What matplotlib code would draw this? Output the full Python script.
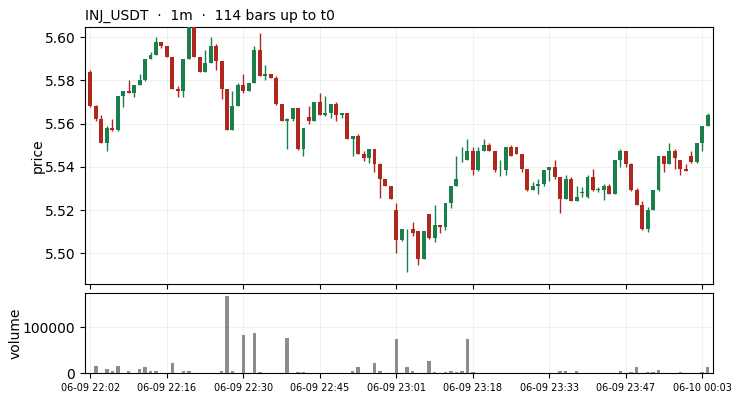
import matplotlib
matplotlib.use("Agg")
import matplotlib.pyplot as plt
import numpy as np

title = "INJ_USDT  ·  1m  ·  114 bars up to t0"

opens = [5.5838, 5.5682, 5.5622, 5.5511, 5.5580, 5.5571, 5.5728, 5.5752, 5.5742, 5.5779,
         5.5801, 5.5900, 5.5918, 5.5978, 5.5960, 5.5909, 5.5761, 5.5752, 5.5900, 5.6065,
         5.5909, 5.5839, 5.5881, 5.5960, 5.5890, 5.5761, 5.5571, 5.5682, 5.5779, 5.5752,
         5.5789, 5.5941, 5.5821, 5.5830, 5.5812, 5.5691, 5.5613, 5.5622, 5.5673, 5.5483,
         5.5631, 5.5613, 5.5701, 5.5640, 5.5650, 5.5691, 5.5640, 5.5650, 5.5529, 5.5543,
         5.5460, 5.5441, 5.5483, 5.5414, 5.5344, 5.5312, 5.5201, 5.5062, 5.5113, 5.5113,
         5.5103, 5.4975, 5.5182, 5.5071, 5.5131, 5.5122, 5.5233, 5.5312, 5.5450, 5.5432,
         5.5474, 5.5383, 5.5474, 5.5500, 5.5474, 5.5383, 5.5383, 5.5491, 5.5491, 5.5460,
         5.5390, 5.5293, 5.5312, 5.5321, 5.5383, 5.5400, 5.5353, 5.5252, 5.5344, 5.5242,
         5.5280, 5.5261, 5.5353, 5.5295, 5.5293, 5.5312, 5.5275, 5.5432, 5.5474, 5.5414,
         5.5293, 5.5224, 5.5113, 5.5201, 5.5293, 5.5451, 5.5414, 5.5474, 5.5432, 5.5390,
         5.5451, 5.5423, 5.5511, 5.5589]
highs = [5.5847, 5.5684, 5.5639, 5.5588, 5.5622, 5.5729, 5.5753, 5.5801, 5.5780, 5.5829,
         5.5901, 5.5931, 5.6000, 5.5979, 5.5961, 5.5910, 5.5776, 5.5901, 5.6080, 5.6080,
         5.5910, 5.5940, 5.6000, 5.5969, 5.5891, 5.5762, 5.5752, 5.5789, 5.5829, 5.5790,
         5.5960, 5.6019, 5.5870, 5.5831, 5.5821, 5.5692, 5.5628, 5.5674, 5.5674, 5.5581,
         5.5682, 5.5702, 5.5742, 5.5728, 5.5691, 5.5701, 5.5651, 5.5651, 5.5544, 5.5552,
         5.5474, 5.5484, 5.5484, 5.5420, 5.5345, 5.5313, 5.5231, 5.5114, 5.5114, 5.5145,
         5.5104, 5.5104, 5.5183, 5.5222, 5.5132, 5.5234, 5.5313, 5.5451, 5.5491, 5.5529,
         5.5491, 5.5491, 5.5529, 5.5509, 5.5475, 5.5432, 5.5492, 5.5500, 5.5492, 5.5461,
         5.5391, 5.5330, 5.5345, 5.5384, 5.5401, 5.5432, 5.5354, 5.5363, 5.5353, 5.5312,
         5.5308, 5.5363, 5.5392, 5.5308, 5.5321, 5.5321, 5.5433, 5.5483, 5.5475, 5.5420,
         5.5302, 5.5242, 5.5212, 5.5294, 5.5452, 5.5452, 5.5511, 5.5483, 5.5433, 5.5414,
         5.5474, 5.5512, 5.5590, 5.5650]
lows = [5.5679, 5.5613, 5.5508, 5.5471, 5.5568, 5.5568, 5.5679, 5.5740, 5.5725, 5.5778,
        5.5799, 5.5899, 5.5916, 5.5948, 5.5906, 5.5760, 5.5725, 5.5725, 5.5898, 5.5908,
        5.5838, 5.5838, 5.5880, 5.5846, 5.5716, 5.5570, 5.5570, 5.5681, 5.5741, 5.5749,
        5.5787, 5.5818, 5.5801, 5.5809, 5.5688, 5.5610, 5.5481, 5.5610, 5.5480, 5.5448,
        5.5600, 5.5610, 5.5638, 5.5637, 5.5628, 5.5610, 5.5628, 5.5527, 5.5448, 5.5459,
        5.5427, 5.5420, 5.5378, 5.5258, 5.5309, 5.5249, 5.5000, 5.5059, 5.4912, 5.5080,
        5.4944, 5.4972, 5.5068, 5.5051, 5.5093, 5.5108, 5.5210, 5.5310, 5.5421, 5.5430,
        5.5360, 5.5381, 5.5473, 5.5472, 5.5378, 5.5359, 5.5360, 5.5449, 5.5458, 5.5378,
        5.5288, 5.5291, 5.5275, 5.5309, 5.5335, 5.5344, 5.5188, 5.5250, 5.5241, 5.5240,
        5.5259, 5.5258, 5.5290, 5.5282, 5.5245, 5.5272, 5.5272, 5.5400, 5.5400, 5.5290,
        5.5222, 5.5110, 5.5100, 5.5199, 5.5290, 5.5378, 5.5412, 5.5390, 5.5360, 5.5380,
        5.5420, 5.5420, 5.5474, 5.5587]
closes = [5.5682, 5.5622, 5.5511, 5.5580, 5.5571, 5.5728, 5.5752, 5.5742, 5.5779, 5.5801,
          5.5900, 5.5918, 5.5978, 5.5960, 5.5909, 5.5761, 5.5752, 5.5900, 5.6065, 5.5909,
          5.5839, 5.5881, 5.5960, 5.5890, 5.5761, 5.5571, 5.5682, 5.5779, 5.5752, 5.5789,
          5.5941, 5.5821, 5.5830, 5.5812, 5.5691, 5.5613, 5.5622, 5.5673, 5.5483, 5.5580,
          5.5613, 5.5701, 5.5640, 5.5650, 5.5691, 5.5640, 5.5650, 5.5529, 5.5543, 5.5460,
          5.5441, 5.5483, 5.5414, 5.5344, 5.5312, 5.5252, 5.5062, 5.5113, 5.5113, 5.5096,
          5.4975, 5.5103, 5.5071, 5.5131, 5.5122, 5.5233, 5.5312, 5.5344, 5.5450, 5.5474,
          5.5383, 5.5474, 5.5500, 5.5474, 5.5383, 5.5383, 5.5491, 5.5451, 5.5460, 5.5390,
          5.5293, 5.5312, 5.5321, 5.5383, 5.5400, 5.5353, 5.5252, 5.5344, 5.5242, 5.5261,
          5.5280, 5.5353, 5.5293, 5.5295, 5.5312, 5.5275, 5.5432, 5.5474, 5.5414, 5.5293,
          5.5224, 5.5113, 5.5201, 5.5293, 5.5451, 5.5414, 5.5474, 5.5441, 5.5390, 5.5381,
          5.5423, 5.5511, 5.5589, 5.5640]

volume_nonzero = {1: 16700, 3: 9400, 4: 5100, 5: 16700, 7: 5100, 9: 9400, 10: 13800,
                  11: 5100, 12: 5100, 15: 22500, 17: 5100, 18: 5100, 24: 5100, 25: 168000,
                  26: 5100, 28: 83300, 30: 87700, 31: 2200, 36: 76800, 38: 2200, 39: 2200,
                  48: 5100, 49: 13800, 52: 22500, 53: 5100, 56: 74600, 58: 13800, 59: 5100,
                  62: 26800, 63: 2200, 65: 2200, 66: 5100, 67: 2200, 68: 5100, 69: 74600,
                  70: 2200, 86: 5100, 87: 5100, 89: 5100, 97: 5100, 99: 2200, 100: 13800,
                  102: 2200, 103: 2200, 104: 7200, 108: 2200, 112: 2200, 113: 13800}
volumes = [volume_nonzero.get(i, 0) for i in range(len(opens))]

tick_positions = [0, 14, 28, 42, 56, 70, 84, 98, 112]
tick_labels = ["06-09 22:02", "06-09 22:16", "06-09 22:30", "06-09 22:45", "06-09 23:01",
               "06-09 23:18", "06-09 23:33", "06-09 23:47", "06-10 00:03"]

UP = "#1b7f4c"
DOWN = "#b0271f"
VOLC = "#8c8c8c"

o = np.array(opens); h = np.array(highs); l = np.array(lows); c = np.array(closes)
x = np.arange(len(o))
up = c >= o
colors = np.where(up, UP, DOWN)

fig = plt.figure(figsize=(7.39, 4.0), dpi=100)
ax = fig.add_axes([0.115, 0.289, 0.850, 0.643])
axv = fig.add_axes([0.115, 0.067, 0.850, 0.200], sharex=ax)

ax.vlines(x, l, h, colors=colors, linewidth=1.0, zorder=2)
body_lo = np.minimum(o, c)
body_h = np.maximum(np.abs(c - o), 0.00012)
ax.bar(x, body_h, bottom=body_lo, width=0.72, color=colors, linewidth=0, zorder=3)

ax.set_ylim(5.4856, 5.6046)
ax.set_xlim(-1, 114)
ax.set_yticks([5.50, 5.52, 5.54, 5.56, 5.58, 5.60])
ax.set_ylabel("price", fontsize=10, labelpad=0)
ax.set_title(title, loc="left", fontsize=10, pad=5)
ax.grid(True, color="#e6e6e6", linewidth=0.6, alpha=0.7)
ax.set_axisbelow(True)
ax.tick_params(axis="x", labelbottom=False)

axv.bar(x, volumes, width=0.65, color=VOLC, linewidth=0, zorder=3)
axv.set_ylim(0, 174000)
axv.set_yticks([0, 100000])
axv.set_ylabel("volume", fontsize=10, labelpad=0)
axv.set_xticks(tick_positions)
axv.set_xticklabels(tick_labels, fontsize=7)
axv.grid(True, color="#e6e6e6", linewidth=0.6, alpha=0.7)
axv.set_axisbelow(True)

fig.savefig("out.png", dpi=100)
